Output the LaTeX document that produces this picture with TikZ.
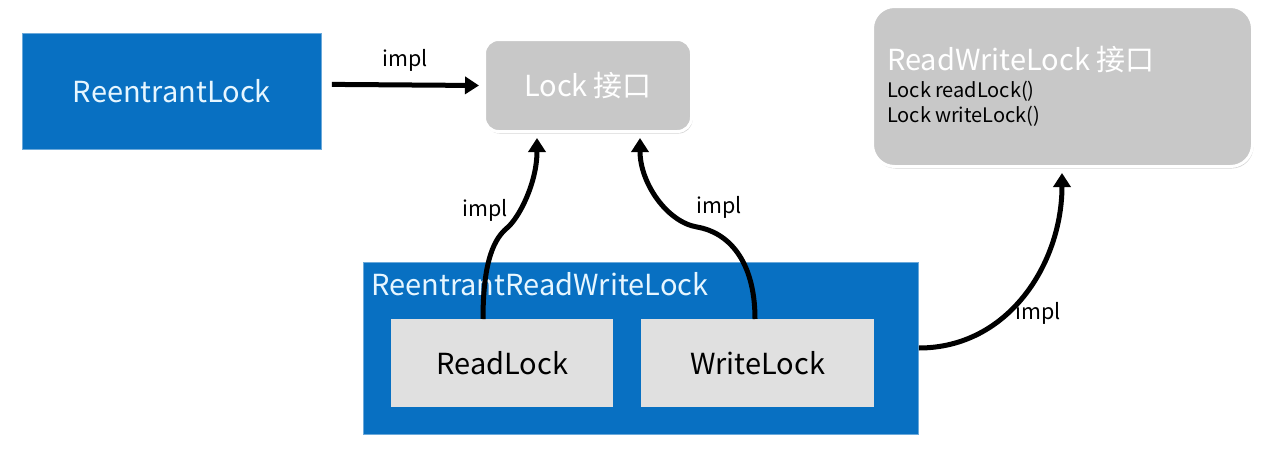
\documentclass[tikz,border=0pt]{standalone}
\usepackage{fontspec}
\setmainfont{Noto Sans CJK SC}[WordSpace=0.9]
\usetikzlibrary{calc,arrows.meta,shadows}
\definecolor{bl}{HTML}{0870C2}
\definecolor{bltext}{HTML}{E6F6FF}
\definecolor{gy}{HTML}{C8C8C8}
\definecolor{lgy}{HTML}{E0E0E0}
\tikzset{
  bigfont/.style={font=\fontsize{29}{34}\selectfont},
  bluebox/.style={fill=bl, draw=bl!60!white, line width=0.8pt, text=bltext, bigfont, inner sep=0pt},
  graybox/.style={fill=gy, draw=white, line width=3pt, rounded corners=14pt, text=white, bigfont, inner sep=0pt,
    drop shadow={opacity=0.35, shadow xshift=1pt, shadow yshift=-2pt}},
  lightbox/.style={fill=lgy, text=black, bigfont, inner sep=0pt},
  implarrow/.style={line width=5pt, -{Triangle[length=14pt,width=17pt]}},
  impl/.style={font=\fontsize{21.5}{26}\selectfont, text=black, inner sep=0pt},
}
\begin{document}
\begin{tikzpicture}[x=1pt,y=-1pt]
\useasboundingbox[fill=white] (0,0) rectangle (1283,471);
% ReentrantLock
\node[bluebox, minimum width=299pt, minimum height=116pt, anchor=north west] (rl) at (22,33) {ReentrantLock};
% Lock interface
\node[graybox, minimum width=207pt, minimum height=92pt, anchor=north west] (lock) at (483,38) {Lock 接口};
% ReadWriteLock interface
\node[graybox, rounded corners=22pt, minimum width=380pt, minimum height=160pt, anchor=north west] (rwl) at (871,5) {};
\node[text=white, bigfont, inner sep=0pt, anchor=west] (rwltitle) at ($(rwl.north west)+(16,55)$) {ReadWriteLock 接口};
\node[text=black, font=\fontsize{20}{25}\selectfont, inner sep=0pt, anchor=north west, align=left] (rwlbody)
  at ($(rwl.north west)+(16,76)$) {Lock readLock()\\Lock writeLock()};
% ReentrantReadWriteLock container
\node[bluebox, minimum width=555pt, minimum height=172pt, anchor=north west] (rrwl) at (363,262) {};
\node[text=bltext, bigfont, inner sep=0pt, anchor=west] (rrwtitle) at ($(rrwl.north west)+(8,22)$) {ReentrantReadWriteLock};
\node[lightbox, minimum width=222pt, minimum height=88pt, anchor=north west] (rdl) at (391,319) {ReadLock};
\node[lightbox, minimum width=233pt, minimum height=88pt, anchor=north west] (wrl) at (641,319) {WriteLock};
% arrows
\draw[implarrow] ($(rl.east)+(10,-7)$) -- ($(lock.west)+(-4,0)$);
\node[impl] (i1) at (405,60) {impl};
\draw[implarrow] ($(rdl.north west)+(92,0)$) .. controls +(0,-60) and +(-12,10) .. (507,228)
   .. controls +(12,-10) and +(0,45) .. ($(lock.south west)+(54,5)$);
\node[impl] (i2) at (485,210) {impl};
\draw[implarrow] ($(wrl.north west)+(114,0)$) .. controls +(0,-60) and +(30,5) .. (697,227)
   .. controls +(-30,-5) and +(0,45) .. ($(lock.south west)+(157,5)$);
\node[impl] (i3) at (719,207) {impl};
\draw[implarrow] ($(rrwl.north east)+(0,86)$) .. controls +(90,0) and +(0,90) .. ($(rwl.south west)+(191,5)$);
\node[impl] (i4) at (1038,313) {impl};
\end{tikzpicture}
\end{document}
